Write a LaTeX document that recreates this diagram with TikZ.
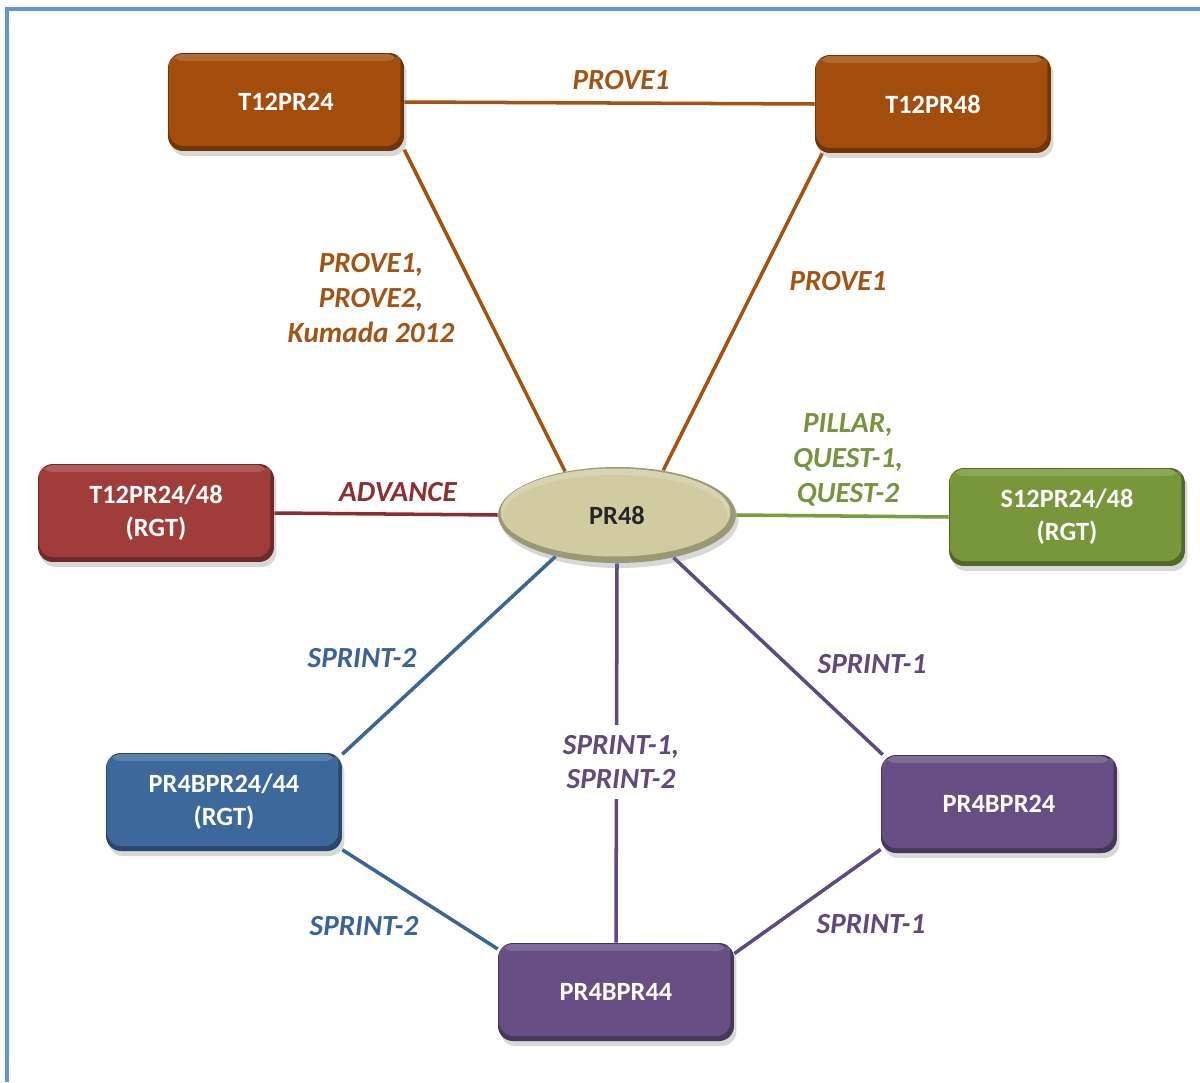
\documentclass[tikz,border=0pt]{standalone}
\usepackage{fontspec}
\setmainfont{Carlito}
\usetikzlibrary{shapes.geometric,shadows,backgrounds}

\definecolor{brownbox}{RGB}{162,77,12}
\definecolor{redbox}{RGB}{160,60,58}
\definecolor{greenbox}{RGB}{119,151,58}
\definecolor{bluebox}{RGB}{60,104,155}
\definecolor{purplebox}{RGB}{103,79,134}
\definecolor{ovalfill}{RGB}{208,203,161}
\definecolor{framecol}{RGB}{98,149,219}
\definecolor{brownline}{RGB}{165,82,16}
\definecolor{redline}{RGB}{140,46,46}
\definecolor{greenline}{RGB}{119,158,60}
\definecolor{blueline}{RGB}{58,101,151}
\definecolor{purpleline}{RGB}{94,74,128}
\definecolor{brownlabel}{RGB}{163,84,18}
\definecolor{redlabel}{RGB}{140,48,48}
\definecolor{greenlabel}{RGB}{119,147,60}
\definecolor{bluelabel}{RGB}{58,100,150}
\definecolor{purplelabel}{RGB}{96,74,123}

\tikzset{
  box/.style={rectangle, rounded corners=0.3cm, fill=#1,
    minimum width=4.72cm, minimum height=1.96cm, inner sep=0pt,
    align=center, text=white,
    font=\bfseries\fontsize{15}{19}\selectfont,
    drop shadow={shadow xshift=0.05cm, shadow yshift=-0.1cm, opacity=0.3},
    path picture={
      % darker rim along the bottom and right
      \fill[black, opacity=0.3]
        (path picture bounding box.south west) rectangle
        (path picture bounding box.north east);
      \fill[#1, rounded corners=0.28cm]
        ([xshift=0.02cm, yshift=-0.02cm]path picture bounding box.north west) rectangle
        ([xshift=-0.07cm, yshift=0.1cm]path picture bounding box.south east);
      % light rim along the top
      \fill[white, opacity=0.16, rounded corners=0.28cm]
        ([xshift=0.02cm, yshift=-0.02cm]path picture bounding box.north west) rectangle
        ([xshift=-0.07cm, yshift=-0.16cm]path picture bounding box.north east);
    }},
  hub/.style={ellipse, fill=ovalfill, minimum width=4.76cm, minimum height=1.92cm,
    inner sep=0pt, text={rgb,255:red,38;green,38;blue,38},
    font=\bfseries\fontsize{15}{19}\selectfont,
    drop shadow={shadow xshift=0.05cm, shadow yshift=-0.1cm, opacity=0.3},
    path picture={
      \fill[black, opacity=0.25]
        (path picture bounding box.south west) rectangle
        (path picture bounding box.north east);
      \fill[ovalfill]
        ([xshift=-0.03cm, yshift=0.05cm]path picture bounding box.center)
        ellipse [x radius=2.3cm, y radius=0.88cm];
      \fill[white, opacity=0.18]
        ([xshift=-0.03cm, yshift=0.07cm]path picture bounding box.center)
        ellipse [x radius=2.28cm, y radius=0.86cm];
      \fill[ovalfill]
        ([xshift=-0.03cm, yshift=0.0cm]path picture bounding box.center)
        ellipse [x radius=2.24cm, y radius=0.8cm];
    }},
  link/.style={draw=#1, line width=2pt},
  tag/.style={text=#1, align=center, inner sep=1pt,
    font=\bfseries\itshape\fontsize{16.6}{19.8}\selectfont},
}

\begin{document}
\begin{tikzpicture}[x=0.02cm, y=-0.02cm]
  \useasboundingbox (0,0) rectangle (1200,1082);

  % nodes
  \node[box=brownbox]  (t24)   at (286,102) {T12PR24};
  \node[box=brownbox]  (t48)   at (933,104) {T12PR48};
  \node[box=redbox]    (trgt)  at (156,513) {T12PR24/48\\(RGT)};
  \node[hub]           (pr48)  at (617,515) {PR48};
  \node[box=greenbox]  (srgt)  at (1067,517) {S12PR24/48\\(RGT)};
  \node[box=bluebox]   (brgt)  at (224,802) {PR4BPR24/44\\(RGT)};
  \node[box=purplebox] (b24)   at (999,804) {PR4BPR24};
  \node[box=purplebox] (b44)   at (616,992) {PR4BPR44};

  % connectors, behind the nodes
  \begin{scope}[on background layer]
    \fill[white] (0,0) rectangle (1200,1082);
    \draw[framecol, line width=1.8pt] (1200,9) -- (7,9) -- (7,1082);
    \draw[link=brownline]  (t24.east) -- (t48.west);
    \draw[link=brownline]  (t24.-22) -- (pr48.140);
    \draw[link=brownline]  (t48.204) -- (pr48.44);
    \draw[link=redline]    (trgt.east) -- (pr48.west);
    \draw[link=greenline]  (pr48.east) -- (srgt.west);
    \draw[link=blueline]   (pr48.214) -- (brgt.22);
    \draw[link=purpleline] (pr48.south) -- (b44.north);
    \draw[link=purpleline] (pr48.-37) -- (b24.157);
    \draw[link=blueline]   (brgt.-22) -- (b44.160);
    \draw[link=purpleline] (b24.201) -- (b44.18);
  \end{scope}

  % connector labels
  \node[tag=brownlabel] (l1) at (621,80) {PROVE1};
  \node[tag=brownlabel] (l2) at (371,298) {PROVE1,\\PROVE2,\\Kumada 2012};
  \node[tag=brownlabel] (l3) at (838,281) {PROVE1};
  \node[tag=redlabel]   (l4) at (398,492) {ADVANCE};
  \node[tag=greenlabel] (l5) at (848,460) {PILLAR,\\QUEST-1,\\QUEST-2};
  \node[tag=bluelabel]  (l6) at (362,658) {SPRINT-2};
  \node[tag=purplelabel, fill=white, inner ysep=0.2cm] (l7) at (621,762) {SPRINT-1,\\SPRINT-2};
  \node[tag=purplelabel] (l8) at (872,664) {SPRINT-1};
  \node[tag=bluelabel]  (l9) at (364,926) {SPRINT-2};
  \node[tag=purplelabel] (l10) at (871,924) {SPRINT-1};
\end{tikzpicture}
\end{document}
